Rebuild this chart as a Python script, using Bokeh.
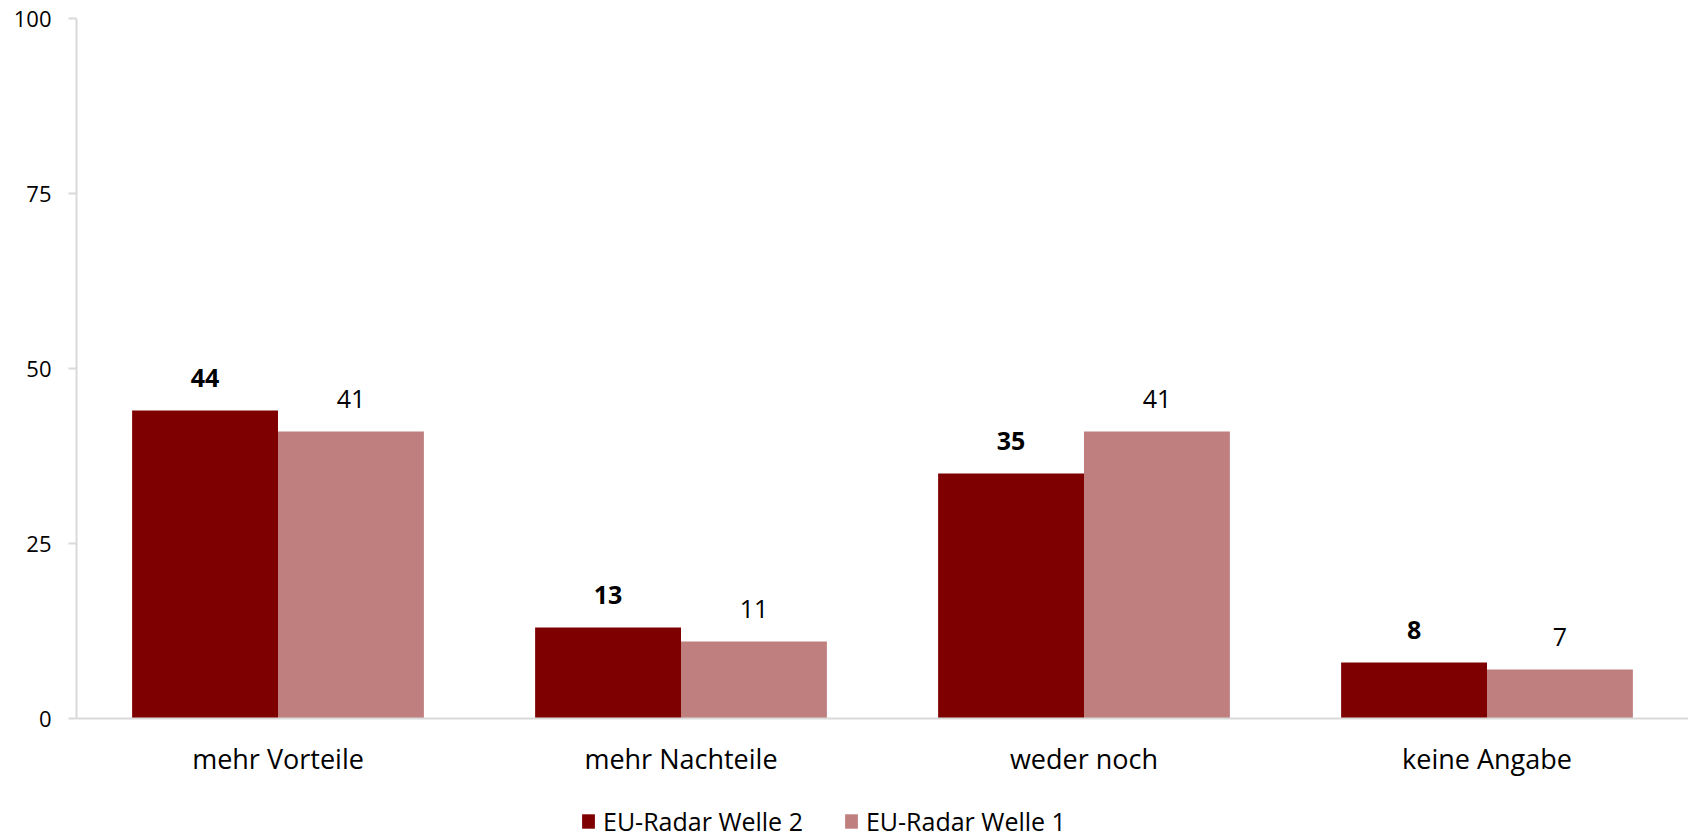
from bokeh.plotting import figure
from bokeh.layouts import column
from bokeh.models import FactorRange, Range1d, ColumnDataSource, Legend, LegendItem, FixedTicker
from bokeh.transform import dodge
from bokeh.core.properties import value
from bokeh.embed import file_html
from bokeh.resources import INLINE

categories = ["mehr Vorteile", "mehr Nachteile", "weder noch", "keine Angabe"]
welle2 = [44, 13, 35, 8]
welle1 = [41, 11, 41, 7]
series_names = ["EU-Radar Welle 2", "EU-Radar Welle 1"]
y_ticks = [0, 25, 50, 75, 100]

DARK = "#7F0000"
LIGHT = "#BF7F7F"
AXIS = "#D9D9D9"
FONT = "Open Sans"
FS_TICK = "22px"
FS = "27px"
FS_LEG = "25px"
FS_DATA = "25px"

src = ColumnDataSource(dict(
    cat=categories, w2=welle2, w1=welle1,
    l2=[str(v) for v in welle2], l1=[str(v) for v in welle1],
))

p = figure(x_range=FactorRange(*categories), y_range=Range1d(0, 100),
           width=1688, height=773, frame_width=1612, frame_height=700,
           output_backend="svg", toolbar_location=None,
           min_border_left=76, min_border_right=0, min_border_top=18, min_border_bottom=55)
p.outline_line_color = None
p.xgrid.grid_line_color = None
p.ygrid.grid_line_color = None
p.x_range.range_padding = 0

bw = 0.362
p.vbar(x=dodge("cat", -bw / 2, range=p.x_range), top="w2", width=bw, source=src,
       fill_color=DARK, line_color=None)
p.vbar(x=dodge("cat", bw / 2, range=p.x_range), top="w1", width=bw, source=src,
       fill_color=LIGHT, line_color=None)

p.text(x=dodge("cat", -bw / 2, range=p.x_range), y="w2", text="l2", source=src,
       text_align="center", text_baseline="alphabetic", y_offset=-33,
       text_font=value(FONT), text_font_size=FS_DATA, text_font_style="bold", text_color="black")
p.text(x=dodge("cat", bw / 2, range=p.x_range), y="w1", text="l1", source=src,
       text_align="center", text_baseline="alphabetic", y_offset=-33,
       text_font=value(FONT), text_font_size=FS_DATA, text_color="black")

p.yaxis.ticker = FixedTicker(ticks=y_ticks)
p.yaxis.axis_line_color = AXIS
p.yaxis.axis_line_width = 2
p.yaxis.major_tick_line_color = AXIS
p.yaxis.major_tick_line_width = 2
p.yaxis.major_tick_out = 8
p.yaxis.major_tick_in = 0
p.yaxis.minor_tick_line_color = None
p.yaxis.major_label_standoff = 17
p.yaxis.major_label_text_font = FONT
p.yaxis.major_label_text_font_size = FS_TICK
p.yaxis.major_label_text_color = "black"

p.xaxis.axis_line_color = AXIS
p.xaxis.axis_line_width = 2
p.xaxis.major_tick_line_color = None
p.xaxis.minor_tick_line_color = None
p.xaxis.major_label_standoff = 15
p.xaxis.major_label_text_font = FONT
p.xaxis.major_label_text_font_size = FS
p.xaxis.major_label_text_color = "black"

# legend strip below the chart (its frame is aligned with the chart's frame)
lf = figure(width=1688, height=62, x_range=Range1d(0, 1), y_range=Range1d(0, 1),
            x_axis_type=None, y_axis_type=None, output_backend="svg", toolbar_location=None,
            min_border_left=0, min_border_right=0, min_border_top=0, min_border_bottom=0)
lf.outline_line_color = None
lf.xgrid.grid_line_color = None
lf.ygrid.grid_line_color = None
hidden = ColumnDataSource(dict(x=[-5], top=[-5]))
g2 = lf.vbar(x="x", top="top", width=0.1, source=hidden, fill_color=DARK, line_color=None)
g1 = lf.vbar(x="x", top="top", width=0.1, source=hidden, fill_color=LIGHT, line_color=None)

legend = Legend(items=[LegendItem(label=series_names[0], renderers=[g2]),
                       LegendItem(label=series_names[1], renderers=[g1])],
                orientation="horizontal", location=(504, 3),
                glyph_width=16, glyph_height=18, label_standoff=7, spacing=40,
                padding=0, margin=0, border_line_color=None, background_fill_alpha=0,
                label_text_font=FONT, label_text_font_size=FS_LEG, label_text_color="black")
lf.add_layout(legend, "center")

layout = column(p, lf, spacing=0)
open("out.html", "w").write(file_html(layout, INLINE))
